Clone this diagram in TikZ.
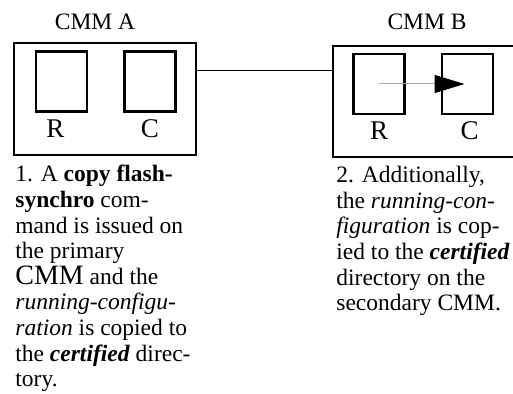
\documentclass[tikz,border=0pt]{standalone}
\usepackage{fontspec}
\setmainfont{Liberation Serif}
\usetikzlibrary{arrows.meta}
\begin{document}
\begin{tikzpicture}[x=0.5pt,y=-0.5pt,
    every node/.style={font=\fontsize{11.75}{12.8}\selectfont},
    outerbox/.style={draw,line width=1.4pt,minimum width=91pt,minimum height=56pt,inner sep=0pt},
    innerbox/.style={draw,line width=1.1pt,minimum width=25.5pt,minimum height=30pt,inner sep=0pt,node distance=44.25pt},
    lbl/.style={inner sep=0pt,node distance=23.4pt,font=\fontsize{13.5}{14}\selectfont},
    note/.style={align=left,anchor=north west,inner sep=0pt}]
    \useasboundingbox (0,0) rectangle (513,394);
    \node[outerbox] (A) at (105,99) {};
    \node[outerbox,minimum height=55.5pt] (B) at (424,101.5) {};
    \node (titleA) at (95,22) {CMM A};
    \node (titleB) at (427,22) {CMM B};
    \node[innerbox] (rA) at (61.5,81.5) {};
    \node[innerbox,right of=rA] (cA) {};
    \node[innerbox] (rB) at (379,84) {};
    \node[innerbox,right of=rB] (cB) {};
    \node[lbl,below of=rA,xshift=-3pt] (lrA) {R};
    \node[lbl,below of=cA] (lcA) {C};
    \node[lbl,below of=rB] (lrB) {R};
    \node[lbl,below of=cB,xshift=1pt] (lcB) {C};
    \coordinate (wire) at (0,71);
    \draw[line width=0.5pt] (A.east |- wire) -- (B.west |- wire);
    \draw[gray!70,line width=0.5pt,shorten >=1.5pt,-{Triangle[black,length=15pt,width=9pt]}] (rB.center) -- (cB.center);
    \node[note] (stepA) at (15,165) {1. A \textbf{copy flash-}\\ \textbf{synchro} com-\\ mand is issued on\\ the primary\\ {\fontsize{14}{12.8}\selectfont CMM} and the\\ \textit{running-configu-}\\ \textit{ration} is copied to\\ the \textbf{\textit{certified}} direc-\\ tory.};
    \node[note] (stepB) at (336,166) {2. Additionally,\\ the \textit{running-con-}\\ \textit{figuration} is cop-\\ ied to the \textbf{\textit{certified}}\\ directory on the\\ secondary CMM.};
\end{tikzpicture}
\end{document}
